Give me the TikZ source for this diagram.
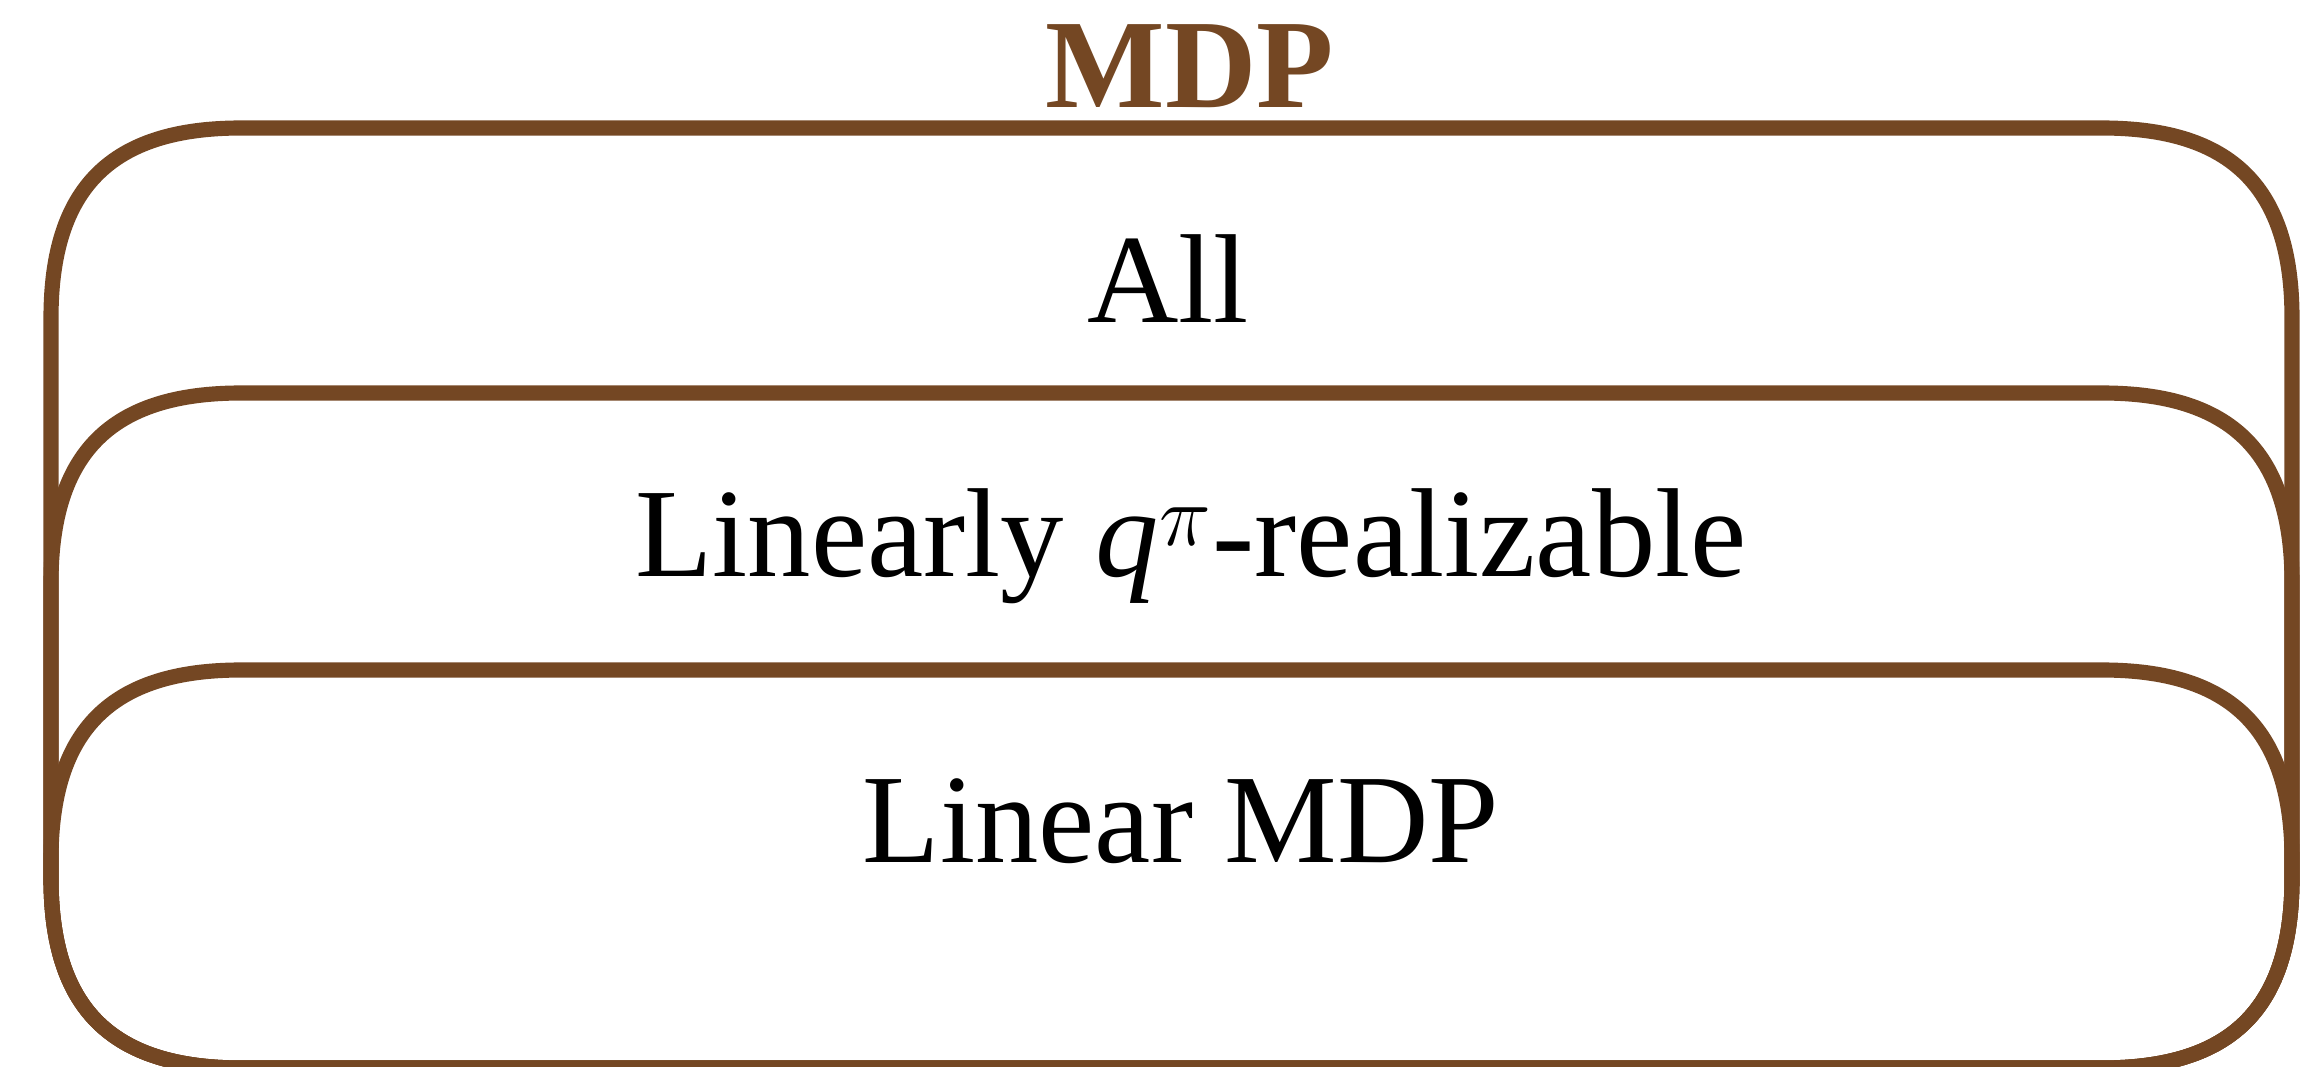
\documentclass[tikz,border=0pt]{standalone}
\usepackage{fontspec}
\setmainfont{Liberation Serif}
\usepackage{tikz}
\usetikzlibrary{positioning,calc}

\definecolor{mdpbrown}{RGB}{116,71,35}

\tikzset{
  classline/.style={draw=mdpbrown, line width=4.3pt},
  classlabel/.style={anchor=base, inner sep=0pt, font=\fontsize{36}{40}\selectfont},
}

% sides of the boxes
\def\xl{51}   % left side
\def\xr{2292} % right side
\def\yb{1068} % bottom
\def\rc{190}  % corner size
\def\kc{60}   % corner control

% one rounded box, top at y=#1
\newcommand{\classbox}[1]{%
  \draw[classline] (\xl,#1+\rc) .. controls (\xl,#1+\kc) and (\xl+\kc,#1) .. (\xl+\rc,#1)
    -- (\xr-\rc,#1) .. controls (\xr-\kc,#1) and (\xr,#1+\kc) .. (\xr,#1+\rc)
    -- (\xr,\yb-\rc) .. controls (\xr,\yb-\kc) and (\xr-\kc,\yb) .. (\xr-\rc,\yb)
    -- (\xl+\rc,\yb) .. controls (\xl+\kc,\yb) and (\xl,\yb-\kc) .. (\xl,\yb-\rc) -- cycle;}

\begin{document}
\begin{tikzpicture}[x=0.01cm, y=-0.01cm]
  \useasboundingbox (0,0) rectangle (2320,1067);

  % boxes
  \classbox{128}
  \classbox{393}
  \classbox{670}

  % top label
  \coordinate (T) at (1190,108);
  \node[classlabel, text=mdpbrown, font=\fontsize{36}{40}\selectfont\bfseries] (mdp) at (T) {MDP};

  % labels in the boxes
  \coordinate (A) at (1168,323);
  \coordinate (Q) at (1191,577);
  \coordinate (L) at (1181,863);
  \node[classlabel] (all) at (A) {All};
  \node[classlabel] (qpi) at (Q) {Linearly \textit{q}$^{\pi}$-realizable};
  \node[classlabel] (lin) at (L) {Linear MDP};

\end{tikzpicture}
\end{document}
